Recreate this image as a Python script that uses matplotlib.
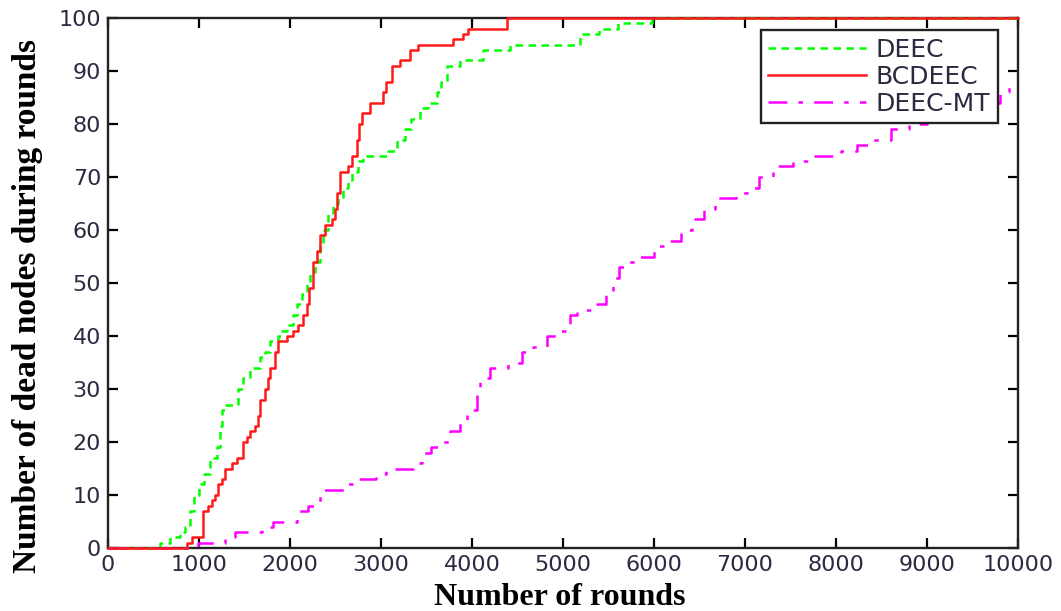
import numpy as np
import matplotlib
matplotlib.use('Agg')
import matplotlib.pyplot as plt

# dead nodes vs rounds, read as stair steps (round where count changes, new count)
deec_r = [0, 570, 680, 790, 850, 900, 950, 1000, 1050, 1120, 1200, 1230, 1250, 1290, 1430, 1480,
          1560, 1670, 1720, 1780, 1870, 1900, 1970, 2030, 2080, 2130, 2190, 2220, 2270, 2330, 2360,
          2420, 2470, 2530, 2580, 2640, 2680, 2750, 2800, 3080, 3180, 3260, 3330, 3430, 3520, 3620,
          3660, 3730, 3870, 4120, 4420, 5190, 5400, 5600, 5980, 10000]
deec_d = [0, 1, 2, 3, 4, 7, 10, 12, 14, 17, 19, 23, 26, 27, 30, 32,
          34, 36, 37, 39, 40, 41, 42, 44, 46, 48, 50, 52, 54, 57, 60,
          63, 65, 66, 68, 69, 71, 73, 74, 75, 77, 79, 81, 83, 84, 86,
          88, 91, 92, 94, 95, 97, 98, 99, 100, 100]

bc_r = [0, 870, 920, 1045, 1100, 1140, 1175, 1210, 1250, 1285, 1360, 1420, 1480, 1530, 1560, 1615,
        1650, 1670, 1725, 1760, 1780, 1835, 1870, 1970, 2030, 2090, 2140, 2190, 2210, 2250, 2300,
        2330, 2385, 2460, 2495, 2515, 2550, 2640, 2680, 2740, 2760, 2790, 2880, 3020, 3060, 3120,
        3210, 3320, 3410, 3790, 3900, 3960, 4385, 10000]
bc_d = [0, 1, 2, 7, 8, 9, 10, 12, 13, 15, 16, 17, 20, 21, 22, 23,
        25, 28, 30, 32, 34, 37, 39, 40, 41, 42, 44, 46, 49, 54, 56,
        59, 61, 62, 64, 67, 71, 72, 74, 77, 80, 82, 84, 86, 88, 91,
        92, 94, 95, 96, 97, 98, 100, 100]

mt_r = [0, 990, 1290, 1400, 1690, 1810, 2080, 2200, 2330, 2600, 2700, 2950, 3050, 3350, 3450, 3550,
        3650, 3760, 3870, 3950, 4050, 4090, 4200, 4390, 4550, 4670, 4820, 4970, 5080, 5150, 5370,
        5470, 5550, 5620, 5720, 5850, 6000, 6140, 6300, 6420, 6550, 6670, 6900, 7020, 7150, 7310,
        7530, 7700, 8050, 8230, 8400, 8600, 8800, 9000, 9300, 9600, 9800, 9900, 10000]
mt_d = [0, 1, 2, 3, 4, 5, 7, 8, 11, 12, 13, 14, 15, 16, 18, 19,
        20, 22, 24, 26, 30, 32, 34, 35, 37, 38, 40, 41, 44, 45, 46,
        48, 51, 53, 54, 55, 57, 58, 60, 62, 64, 66, 67, 68, 70, 72,
        73, 74, 75, 76, 77, 79, 80, 82, 83, 84, 86, 87, 87]

xticks = np.arange(0, 10001, 1000)
yticks = np.arange(0, 101, 10)
tick_col = '#2a2a40'

fig = plt.figure(figsize=(10.61, 6.11), dpi=100)
ax = fig.add_axes([0.1018, 0.1031, 0.8577, 0.8674])

ax.step(deec_r, deec_d, where='post', color='#00ff00', lw=1.8,
        dashes=(3.0, 2.2), label='DEEC', zorder=3, clip_on=False)
ax.step(bc_r, bc_d, where='post', color='#ff1a1a', lw=1.8,
        label='BCDEEC', zorder=4, clip_on=False)
ax.step(mt_r, mt_d, where='post', color='#ff00ff', lw=1.8,
        dashes=(7.5, 4.5, 1.8, 4.5), label='DEEC-MT', zorder=3, clip_on=False)

ax.set_xlim(0, 10000)
ax.set_ylim(0, 100)
ax.set_xticks(xticks)
ax.set_yticks(yticks)
ax.tick_params(direction='in', length=7, width=1.6, top=True, right=True,
               labelsize=16, labelcolor=tick_col, pad=5)
for lbl in ax.get_xticklabels() + ax.get_yticklabels():
    lbl.set_family('DejaVu Sans')
for s in ax.spines.values():
    s.set_linewidth(1.7)
    s.set_color('#222222')

ax.set_xlabel('Number of rounds', family='Liberation Serif', weight='bold',
              fontsize=23, va='center')
ax.xaxis.set_label_coords(0.496, -0.093)
ax.set_ylabel('Number of dead nodes during rounds', family='Liberation Serif',
              weight='bold', fontsize=24, va='center')
ax.yaxis.set_label_coords(-0.088, 0.457)

leg = ax.legend(loc='upper right', bbox_to_anchor=(0.978, 0.977), borderaxespad=0,
                fancybox=False, framealpha=1, edgecolor='#222222', handlelength=3.9,
                prop={'family': 'DejaVu Sans', 'size': 18}, labelspacing=0.12,
                borderpad=0.3, handletextpad=0.4)
leg.get_frame().set_linewidth(1.7)
for t in leg.get_texts():
    t.set_color(tick_col)

fig.savefig('out.png', dpi=100)
